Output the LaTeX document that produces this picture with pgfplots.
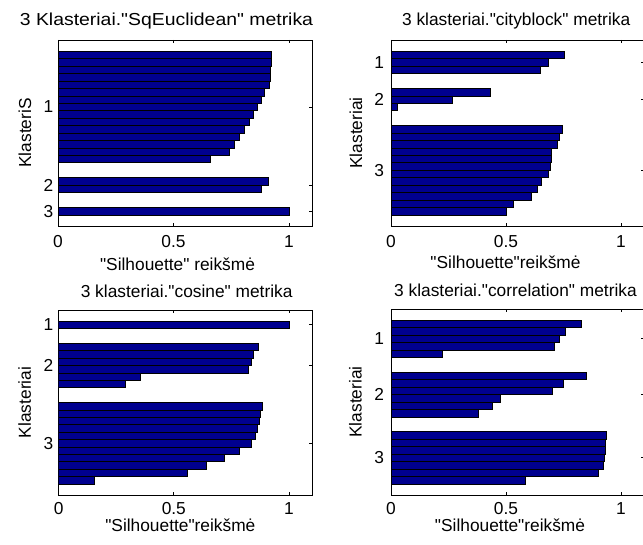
\documentclass[border=0pt]{standalone}
\usepackage{pgfplots}
\pgfplotsset{compat=1.18}
\usepackage{fontspec}
\setmainfont{Liberation Sans}
\definecolor{barblue}{RGB}{0,0,143}
\newcommand{\q}{\textquotedbl}
\pgfplotsset{
  silh/.style={
    scale only axis,
    xmin=0, xmax=1.1, ymin=1, ymax=26, y dir=reverse,
    xtick={0,0.5,1}, xticklabels={0,0.5,1},
    xtick pos=both, ytick pos=both,
    tick align=inside,
    major tick length=2.25pt,
    every tick/.style={black, line width=0.5pt},
    axis line style={black, line width=0.7pt},
    tick label style={font=\fontsize{13}{15}\selectfont, black},
    label style={font=\fontsize{13}{15}\selectfont, black},
    title style={font=\fontsize{13}{15}\selectfont, black},
    /pgf/number format/assume math mode=true,
    xticklabel style={anchor=center, yshift=-12pt},
  },
  bars/.style={xbar, bar width=1, bar shift=0pt, fill=barblue, draw=black, line width=0.45pt},
}
\begin{document}
\begin{tikzpicture}
% top left
\begin{axis}[silh, at={(43.5pt,-169.5pt)}, anchor=south west,
  width=190.5pt, height=139.5pt,
  ytick={10,20.5,24}, yticklabels={1,2,3},
  yticklabel style={anchor=east, xshift=0pt},
  title={\scalebox{1.12}[1]{3 Klasteriai.\q SqEuclidean\q{} metrika}},
  title style={at={(axis description cs:0.5,1)}, anchor=center, yshift=8.25pt, xshift=-13.9pt},
  xlabel={\q Silhouette\q{} reikšmė},
  xlabel style={at={(axis description cs:0.5,0)}, anchor=center, yshift=-28.5pt, xshift=-5.6pt},
  ylabel={KlasteriS},
  ylabel style={at={(axis description cs:0,0.5)}, anchor=center, yshift=24.75pt},
]
\addplot[bars] coordinates {
(0.924,3) (0.924,4) (0.921,5) (0.920,6) (0.917,7) (0.895,8) (0.881,9) (0.863,10)
(0.844,11) (0.830,12) (0.805,13) (0.786,14) (0.764,15) (0.742,16) (0.659,17)
(0.910,20) (0.880,21)
(1.000,24)};
\end{axis}
% top right
\begin{axis}[silh, at={(293.25pt,-169.5pt)}, anchor=south west,
  width=189.75pt, height=139.5pt,
  ytick={4,9,18.5}, yticklabels={1,2,3},
  yticklabel style={anchor=east, xshift=-1.7pt},
  title={3 klasteriai.\q cityblock\q{} metrika},
  title style={at={(axis description cs:0.5,1)}, anchor=center, yshift=8.25pt, xshift=-1pt},
  xlabel={\q Silhouette\q reikšmė},
  xlabel style={at={(axis description cs:0.5,0)}, anchor=center, yshift=-27.4pt, xshift=-9pt},
  ylabel={Klasteriai},
  ylabel style={at={(axis description cs:0,0.5)}, anchor=center, yshift=26.25pt},
]
\addplot[bars] coordinates {
(0.752,3) (0.684,4) (0.648,5)
(0.433,8) (0.267,9) (0.027,10)
(0.745,13) (0.732,14) (0.723,15) (0.698,16) (0.696,17) (0.691,18) (0.685,19)
(0.655,20) (0.635,21) (0.612,22) (0.532,23) (0.502,24)};
\end{axis}
% bottom left
\begin{axis}[silh, at={(44pt,-371.25pt)}, anchor=south west,
  width=190pt, height=138.75pt,
  ytick={3,8.5,19}, yticklabels={1,2,3},
  yticklabel style={anchor=east, xshift=-0.5pt},
  xticklabel style={yshift=2pt},
  title={3 klasteriai.\q cosine\q{} metrika},
  title style={at={(axis description cs:0.5,1)}, anchor=center, yshift=8.25pt, xshift=1pt},
  xlabel={\q Silhouette\q reikšmė},
  xlabel style={at={(axis description cs:0.5,0)}, anchor=center, yshift=-22.5pt, xshift=-3.75pt},
  ylabel={Klasteriai},
  ylabel style={at={(axis description cs:0,0.5)}, anchor=center, yshift=25.5pt},
]
\addplot[bars] coordinates {
(1.000,3)
(0.866,6) (0.844,7) (0.836,8) (0.822,9) (0.355,10) (0.290,11)
(0.885,14) (0.877,15) (0.873,16) (0.863,17) (0.854,18) (0.836,19) (0.785,20)
(0.720,21) (0.643,22) (0.560,23) (0.154,24)};
\end{axis}
% bottom right
\begin{axis}[silh, at={(293.25pt,-371.25pt)}, anchor=south west,
  width=189.75pt, height=139.5pt,
  ytick={5,12.5,21}, yticklabels={1,2,3},
  yticklabel style={anchor=east, xshift=-1.7pt},
  xticklabel style={yshift=2pt},
  title={3 klasteriai.\q correlation\q{} metrika},
  title style={at={(axis description cs:0.5,1)}, anchor=center, yshift=8.25pt, xshift=-1.5pt},
  xlabel={\q Silhouette\q reikšmė},
  xlabel style={at={(axis description cs:0.5,0)}, anchor=center, yshift=-22.9pt, xshift=-5.6pt},
  ylabel={Klasteriai},
  ylabel style={at={(axis description cs:0,0.5)}, anchor=center, yshift=26.6pt},
]
\addplot[bars] coordinates {
(0.826,3) (0.757,4) (0.732,5) (0.709,6) (0.222,7)
(0.851,10) (0.749,11) (0.703,12) (0.474,13) (0.440,14) (0.380,15)
(0.938,18) (0.933,19) (0.930,20) (0.928,21) (0.923,22) (0.901,23) (0.585,24)};
\end{axis}
\pgfresetboundingbox
\path[use as bounding box] (0pt,0pt) rectangle (482.25pt,-408.75pt);
\end{tikzpicture}
\end{document}
